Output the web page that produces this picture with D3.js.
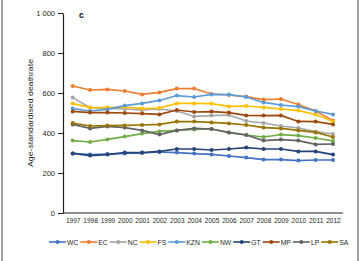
<!DOCTYPE html>
<html>
<head>
<meta charset="utf-8">
<script src="https://cdn.jsdelivr.net/npm/d3@7"></script>
<style>
  body { margin: 0; background: #fff; }
  svg { display: block; }
  .axis text { font-family: "Liberation Sans", Arial, sans-serif; font-size: 7.5px; fill: #231f20; }
  .axis path, .axis line { stroke: #231f20; }
  .label { font-family: "Liberation Sans", Arial, sans-serif; font-size: 7.5px; fill: #231f20; }
  .legend text { font-family: "Liberation Sans", Arial, sans-serif; font-size: 8px; fill: #231f20; }
</style>
</head>
<body>
<svg width="364" height="261"></svg>
<script>
// **** Data ****
var years = [1997, 1998, 1999, 2000, 2001, 2002, 2003, 2004, 2005, 2006, 2007, 2008, 2009, 2010, 2011, 2012];
var provinces = ["WC", "EC", "NC", "FS", "KZN", "NW", "GT", "MP", "LP", "SA"];
var colours = ["#4472c4", "#ed7d31", "#a5a5a5", "#ffc000", "#5b9bd5", "#70ad47", "#264478", "#9e480e", "#636363", "#997300"];
var yTicks = [0, 200, 400, 600, 800, 1000];

var wc  = [298, 292, 295, 298, 300, 305, 302, 297, 293, 285, 277, 267, 267, 262, 265, 265];
var ec  = [635, 615, 618, 610, 593, 603, 622, 622, 595, 590, 582, 567, 570, 543, 510, 462];
var nc  = [577, 527, 523, 520, 515, 520, 510, 483, 487, 490, 460, 450, 435, 425, 407, 395];
var fs  = [547, 528, 527, 530, 522, 525, 548, 548, 547, 533, 535, 528, 520, 512, 493, 457];
var kzn = [522, 510, 518, 537, 548, 563, 587, 580, 593, 592, 580, 553, 540, 532, 510, 493];
var nw  = [362, 355, 368, 382, 397, 408, 413, 418, 420, 402, 390, 380, 392, 387, 375, 360];
var gt  = [298, 287, 292, 302, 302, 308, 320, 320, 315, 320, 327, 320, 320, 308, 308, 292];
var mp  = [508, 502, 502, 500, 497, 493, 515, 505, 507, 502, 488, 487, 488, 458, 457, 443];
var lp  = [443, 423, 433, 427, 413, 392, 413, 423, 420, 403, 390, 362, 367, 362, 343, 345];
var sa  = [450, 435, 437, 438, 440, 443, 457, 457, 453, 448, 440, 427, 423, 413, 403, 380];

var seriesValues = [wc, ec, nc, fs, kzn, nw, gt, mp, lp, sa];

// **** Scales ****
var x = d3.scaleLinear().domain([1997, 2012]).range([72.7, 333]);
var y = d3.scaleLinear().domain([0, 1000]).range([213, 13]);

var svg = d3.select("svg");

// frame lines at the sides
svg.append("line").attr("x1", 2).attr("x2", 2).attr("y1", 0).attr("y2", 261).attr("stroke", "#444").attr("stroke-width", 1);
svg.append("line").attr("x1", 358).attr("x2", 358).attr("y1", 0).attr("y2", 261).attr("stroke", "#444").attr("stroke-width", 1);

// y axis
var yAxis = svg.append("g").attr("class", "axis")
    .attr("transform", "translate(63,0)")
    .call(d3.axisLeft(y).tickValues(yTicks).tickSize(5).tickSizeOuter(0)
        .tickFormat(function(d) { return d === 1000 ? "1 000" : d; }));
yAxis.select(".domain").attr("stroke-width", 1.2);
yAxis.selectAll(".tick text").attr("x", -8);

// x axis (labels squeezed like the condensed original font)
var xAxis = svg.append("g").attr("class", "axis")
    .attr("transform", "translate(0," + y(0) + ")")
    .call(d3.axisBottom(x).tickValues(years).tickSize(0).tickFormat(d3.format("d")));
xAxis.select(".domain").remove();
xAxis.selectAll(".tick text").attr("y", 5)
    .attr("textLength", 14.5).attr("lengthAdjust", "spacingAndGlyphs");
xAxis.append("line").attr("x1", 63).attr("x2", 343).attr("stroke", "#231f20").attr("stroke-width", 1.2);

// labels
svg.append("text").attr("class", "label")
    .attr("transform", "translate(33," + y(500) + ") rotate(-90)")
    .attr("text-anchor", "middle")
    .attr("textLength", 108).attr("lengthAdjust", "spacingAndGlyphs")
    .text("Age-standardised deathrate");
svg.append("text")
    .attr("x", 79).attr("y", 18)
    .style("font-family", "Liberation Sans, sans-serif").style("font-weight", "bold").style("font-size", "8.5px")
    .text("c");

// **** Lines ****
var line = d3.line()
    .x(function(d, i) { return x(years[i]); })
    .y(function(d) { return y(d); });

seriesValues.forEach(function(vals, k) {
    var g = svg.append("g");
    g.append("path").datum(vals)
        .attr("d", line)
        .attr("fill", "none")
        .attr("stroke", colours[k])
        .attr("stroke-width", 1.6);
    g.selectAll("circle").data(vals).enter().append("circle")
        .attr("cx", function(d, i) { return x(years[i]); })
        .attr("cy", function(d) { return y(d); })
        .attr("r", 2)
        .attr("fill", colours[k]);
});

// **** Legend ****
var legend = svg.append("g").attr("class", "legend").attr("transform", "translate(0,242)");
var lx = 49;
provinces.forEach(function(p, k) {
    var item = legend.append("g");
    item.append("line").attr("x1", lx).attr("x2", lx + 17).attr("stroke", colours[k]).attr("stroke-width", 1.6);
    item.append("circle").attr("cx", lx + 8.5).attr("r", 2).attr("fill", colours[k]);
    var t = item.append("text").attr("x", lx + 18).attr("y", 3).text(p);
    var w = t.node().getComputedTextLength() * 0.85;
    t.attr("textLength", w).attr("lengthAdjust", "spacingAndGlyphs");
    lx += 18 + w + 2;
});
</script>
</body>
</html>
